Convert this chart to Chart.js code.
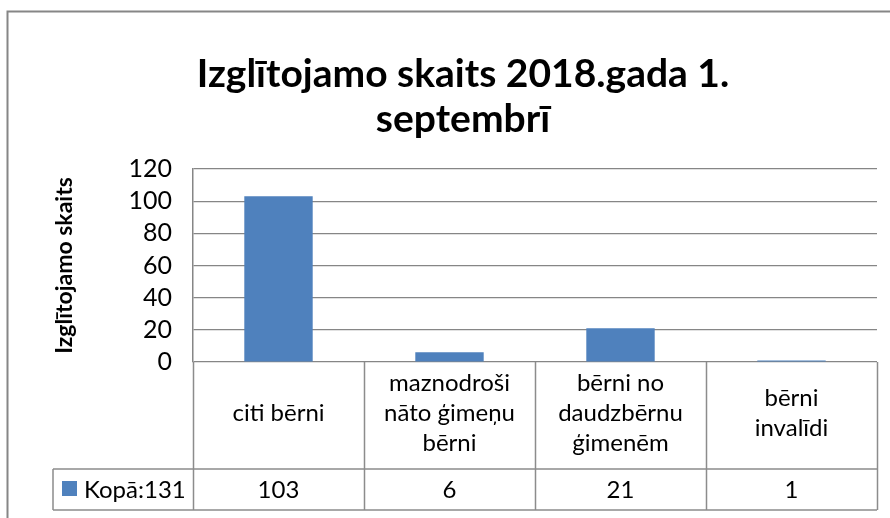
<!DOCTYPE html>
<html>
<head>
<meta charset="utf-8">
<style>
  html, body { margin: 0; padding: 0; background: #ffffff; }
  #wrap { width: 890px; height: 518px; position: relative; }
</style>
<script src="https://cdn.jsdelivr.net/npm/chart.js@4/dist/chart.umd.min.js"></script>
</head>
<body>
<div id="wrap"><canvas id="chart" width="890" height="518"></canvas></div>
<script>
// chart data
var titleLines = ['Izglītojamo skaits 2018.gada 1.', 'septembrī'];
var axisTitle = 'Izglītojamo skaits';
var categories = [
    ['citi bērni'],
    ['maznodroši', 'nāto ģimeņu', 'bērni'],
    ['bērni no', 'daudzbērnu', 'ģimenēm'],
    ['bērni', 'invalīdi']
];
var seriesName = 'Kopā:131';
var seriesValues = [103, 6, 21, 1];
var yMin = 0, yMax = 120, yStep = 20;

var FONT = 'Lato, "Open Sans", sans-serif';
var GRID = '#868686';
var BAR = '#4F81BD';

// Draws the Excel style data table under the plot, plus the outer frame
var dataTablePlugin = {
    id: 'dataTable',
    afterDraw: function (chart) {
        var ctx = chart.ctx;
        var area = chart.chartArea;
        var xs = chart.scales.x;
        var n = categories.length;
        var headTop = area.bottom;
        var rowTop = 469;
        var rowBottom = 510;
        var legendLeft = 53;
        var step = (area.right - area.left) / n;

        ctx.save();

        // outer chart frame (right/bottom fall outside the picture)
        ctx.strokeStyle = GRID;
        ctx.lineWidth = 2;
        ctx.strokeRect(7.5, 11.5, 1000, 1000);

        // table lines
        ctx.strokeStyle = '#8c8c8c';
        ctx.lineWidth = 1.5;
        ctx.beginPath();
        for (var i = 0; i <= n; i++) {
            var x = Math.round(area.left + step * i) + 0.5;
            ctx.moveTo(x, headTop);
            ctx.lineTo(x, rowBottom);
        }
        ctx.moveTo(legendLeft, rowTop);
        ctx.lineTo(area.right, rowTop);
        ctx.moveTo(legendLeft, rowBottom);
        ctx.lineTo(area.right, rowBottom);
        ctx.moveTo(legendLeft, rowTop);
        ctx.lineTo(legendLeft, rowBottom);
        ctx.stroke();

        // category labels
        ctx.fillStyle = '#000000';
        ctx.font = '24px ' + FONT;
        ctx.textAlign = 'center';
        ctx.textBaseline = 'middle';
        var lh = 30;
        var headMid = 413;
        for (var c = 0; c < n; c++) {
            var cx = xs.getPixelForValue(c);
            var lines = categories[c];
            var y0 = headMid - (lines.length - 1) * lh / 2;
            for (var l = 0; l < lines.length; l++) {
                ctx.fillText(lines[l], cx, y0 + l * lh);
            }
            ctx.fillText(String(seriesValues[c]), cx, (rowTop + rowBottom) / 2 + 1);
        }

        // legend key in the table
        ctx.fillStyle = BAR;
        ctx.fillRect(62, 481, 15, 15);
        ctx.fillStyle = '#000000';
        ctx.textAlign = 'left';
        ctx.fillText(seriesName, 84, (rowTop + rowBottom) / 2 + 1);

        ctx.restore();
    }
};

new Chart(document.getElementById('chart'), {
    type: 'bar',
    data: {
        labels: categories,
        datasets: [{
            label: seriesName,
            data: seriesValues,
            backgroundColor: BAR,
            borderWidth: 0,
            categoryPercentage: 1,
            barPercentage: 0.4
        }]
    },
    options: {
        responsive: false,
        animation: false,
        layout: { padding: { left: 49, right: 13, top: 0, bottom: 156 } },
        plugins: {
            legend: { display: false },
            tooltip: { enabled: false },
            title: {
                display: true,
                text: titleLines,
                color: '#000000',
                font: { family: FONT, size: 39, weight: 'bold', lineHeight: 1.154 },
                padding: { top: 52, bottom: 27 }
            }
        },
        scales: {
            x: {
                display: false
            },
            y: {
                min: yMin,
                max: yMax,
                afterFit: function (scale) { scale.width = 144; },
                ticks: {
                    stepSize: yStep,
                    autoSkip: false,
                    color: '#000000',
                    padding: 21,
                    font: { family: FONT, size: 25 }
                },
                grid: { color: GRID, lineWidth: 1.2, drawTicks: false },
                border: { color: GRID, width: 1.5 },
                title: {
                    display: true,
                    text: axisTitle,
                    color: '#000000',
                    padding: 2,
                    font: { family: FONT, size: 23, weight: 'bold' }
                }
            }
        }
    },
    plugins: [dataTablePlugin]
});
</script>
</body>
</html>
